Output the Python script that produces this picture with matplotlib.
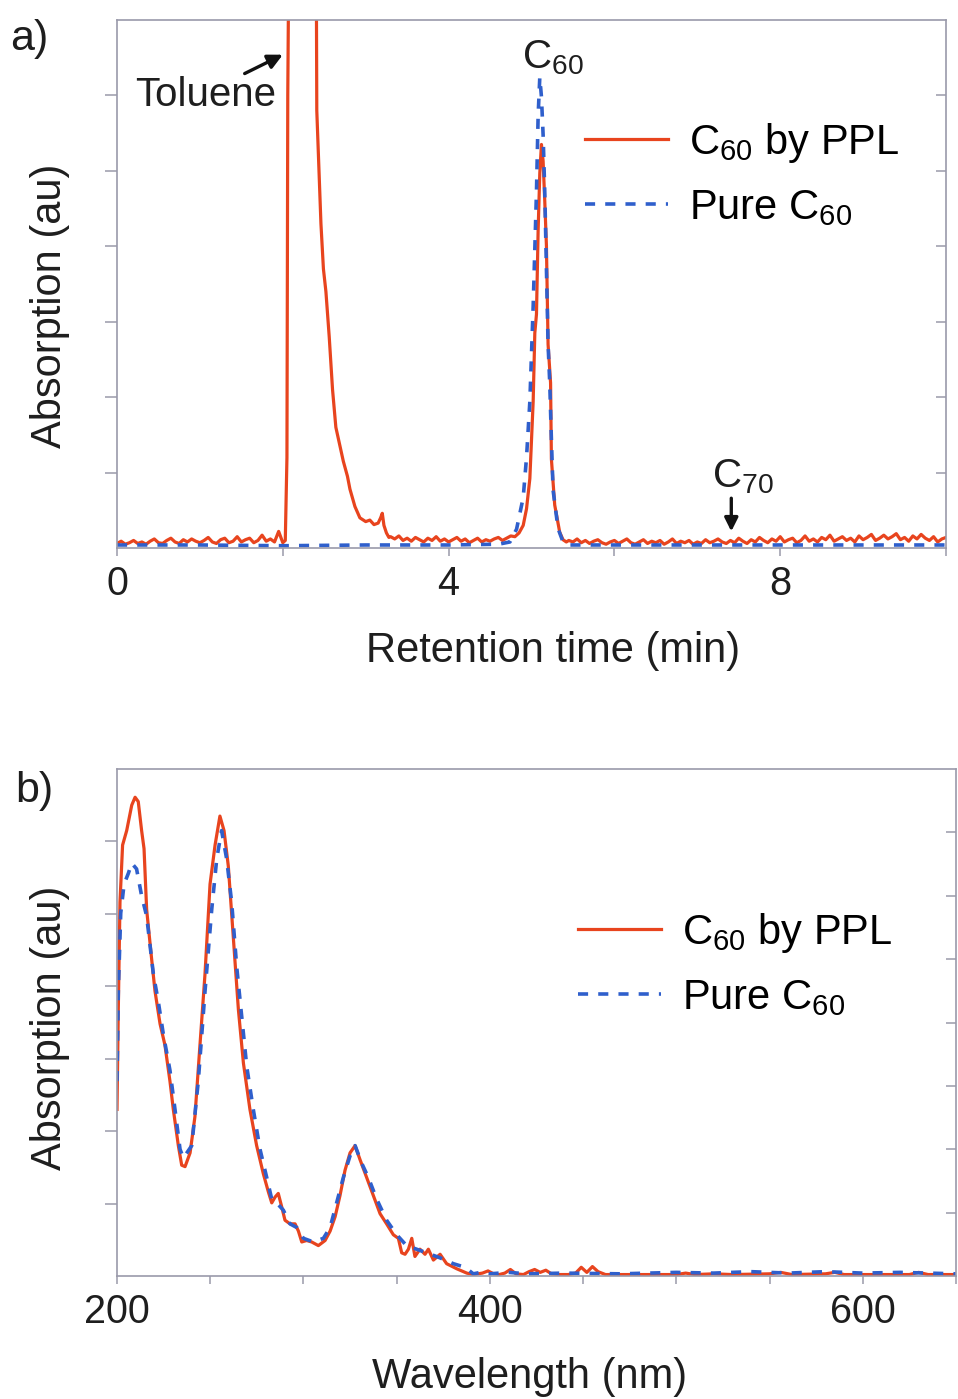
import numpy as np
import matplotlib
matplotlib.use('Agg')
import matplotlib.pyplot as plt

plt.rcParams['font.family'] = ['Liberation Sans', 'DejaVu Sans']
plt.rcParams['mathtext.fontset'] = 'custom'
plt.rcParams['mathtext.rm'] = 'Liberation Sans'
plt.rcParams['mathtext.it'] = 'Liberation Sans:italic'

RED = '#e8441e'
BLUE = '#2f5fcc'
AXC = '#9a9aaa'
TXT = '#1e1e1e'

# ---- panel a: HPLC chromatogram (retention time in min, absorption in au) ----
# red trace "C60 by PPL", baseline 0-2.0 min
a_red_base1 = [0.06, 0.09, 0.05, 0.07, 0.10, 0.06, 0.08, 0.05, 0.09, 0.12,
               0.07, 0.06, 0.10, 0.13, 0.08, 0.06, 0.11, 0.08, 0.12, 0.09,
               0.07, 0.10, 0.14, 0.08, 0.06, 0.11, 0.13, 0.07, 0.09, 0.15,
               0.08, 0.11, 0.13, 0.07, 0.10, 0.17, 0.09, 0.12, 0.08, 0.22, 0.07]
# toluene peak (goes off scale) and its tail
a_tol_x = [2.03, 2.05, 2.06, 2.08, 2.40, 2.41, 2.43, 2.46, 2.49, 2.52, 2.56, 2.60, 2.64, 2.69,
           2.73, 2.78, 2.81, 2.87, 2.93, 3.00, 3.05, 3.10, 3.15, 3.18, 3.20, 3.22, 3.25, 3.28]
a_tol_y = [0.10, 1.20, 6.00, 9.00, 9.00, 5.80, 5.20, 4.30, 3.70, 3.40, 2.80, 2.10, 1.60, 1.35,
           1.15, 0.95, 0.78, 0.55, 0.40, 0.35, 0.37, 0.31, 0.33, 0.40, 0.46, 0.30, 0.20, 0.14]
# baseline 3.30-4.85 min
a_red_base2 = [0.15, 0.12, 0.16, 0.10, 0.13, 0.09, 0.14, 0.11, 0.08, 0.13,
               0.10, 0.15, 0.09, 0.12, 0.08, 0.11, 0.14, 0.09, 0.12, 0.07,
               0.10, 0.13, 0.08, 0.11, 0.09, 0.12, 0.14, 0.10, 0.13, 0.16, 0.15, 0.20]
# C60 peak
a_pk_x = [4.90, 4.94, 4.98, 5.02, 5.04, 5.06, 5.08, 5.10, 5.12, 5.14, 5.16, 5.18, 5.20,
          5.23, 5.24, 5.28, 5.34, 5.38, 5.42]
a_pk_y = [0.30, 0.52, 0.92, 1.94, 2.85, 3.10, 4.21, 4.97, 5.35, 5.13, 4.60, 4.01, 2.70,
          2.19, 1.18, 0.57, 0.21, 0.11, 0.08]
# baseline 5.45-10.0 min
a_red_base3 = [0.10, 0.08, 0.12, 0.07, 0.10, 0.06, 0.09, 0.11, 0.07, 0.05,
               0.08, 0.10, 0.06, 0.09, 0.12, 0.07, 0.05, 0.08, 0.11, 0.06,
               0.09, 0.07, 0.10, 0.05, 0.08, 0.12, 0.06, 0.09, 0.07, 0.10,
               0.05, 0.08, 0.06, 0.11, 0.07, 0.09, 0.12, 0.08, 0.06, 0.10,
               0.07, 0.13, 0.09, 0.06, 0.11, 0.08, 0.14, 0.10, 0.07, 0.12,
               0.09, 0.15, 0.08, 0.11, 0.13, 0.07, 0.10, 0.16, 0.09, 0.12,
               0.08, 0.14, 0.11, 0.17, 0.09, 0.12, 0.15, 0.10, 0.13, 0.08,
               0.16, 0.11, 0.14, 0.18, 0.10, 0.13, 0.17, 0.12, 0.15, 0.19,
               0.11, 0.14, 0.09, 0.16, 0.12, 0.18, 0.13, 0.10, 0.15, 0.08,
               0.12, 0.14]
# blue trace "Pure C60"
a_blue_x = [0.0, 1.0, 2.0, 3.0, 4.0, 4.60, 4.74, 4.82, 4.90, 4.94, 4.98, 5.02, 5.06, 5.08,
            5.10, 5.12, 5.14, 5.16, 5.18, 5.20, 5.22, 5.24, 5.26, 5.32, 5.38, 5.46,
            6.5, 8.0, 9.0, 10.0]
a_blue_y = [0.04, 0.04, 0.03, 0.04, 0.04, 0.05, 0.08, 0.25, 0.67, 1.20, 1.94, 3.20, 4.72, 5.73,
            6.24, 5.98, 5.48, 4.72, 3.71, 2.70, 2.19, 1.44, 0.77, 0.26, 0.08, 0.04,
            0.04, 0.04, 0.04, 0.04]

# ---- panel b: UV-vis spectra (wavelength in nm) ----
b_red_x = [200, 200.7, 201.6, 203, 205.2, 207.9, 209.7, 211.4, 213.2, 214.5, 215.9, 218.6,
           220.4, 223.1, 225.7, 228.4, 230.2, 232.9, 234.7, 236.5, 239.2, 241.8, 244.5,
           247.2, 249.9, 252.6, 255.2, 257.4, 259.7, 262.4, 265.1, 267.8, 271.3, 274.9,
           278.5, 281.2, 283.0, 284.8, 286.5, 288.3, 290.1, 292.8, 295.5, 297.3, 299.1,
           301.7, 304.4, 308.0, 311.6, 314.3, 317.0, 319.6, 322.3, 325.0, 327.7, 330.3,
           333.9, 337.5, 341.1, 344.6, 348.2, 350.9, 352.7, 354.5, 356.3, 358.1, 359.8,
           362.5, 365.2, 367.0, 369.7, 373.3, 376.8, 382.2, 387.6, 391.1,
           396, 399, 402, 405, 408, 411, 414, 418, 421, 424, 427, 430, 433, 437, 442,
           446, 449, 452, 455, 458, 462, 468, 480, 500, 505, 510, 520, 530, 550, 556,
           562, 580, 585, 590, 610, 625, 630, 635, 645, 650]
b_red_y = [2.30, 3.68, 5.16, 5.95, 6.15, 6.50, 6.61, 6.55, 6.15, 5.90, 5.06, 4.37,
           3.93, 3.48, 3.19, 2.69, 2.30, 1.80, 1.53, 1.51, 1.70, 2.20, 3.19,
           4.17, 5.41, 5.95, 6.35, 6.15, 5.66, 4.67, 3.68, 2.94, 2.30, 1.80,
           1.41, 1.16, 1.01, 1.09, 1.14, 0.96, 0.77, 0.72, 0.72, 0.62, 0.47,
           0.49, 0.47, 0.42, 0.49, 0.62, 0.82, 1.11, 1.46, 1.70, 1.80, 1.61,
           1.36, 1.11, 0.86, 0.72, 0.57, 0.52, 0.32, 0.30, 0.37, 0.52, 0.27,
           0.37, 0.30, 0.37, 0.22, 0.30, 0.17, 0.10, 0.04, 0.02,
           0.04, 0.07, 0.03, 0.02, 0.04, 0.09, 0.03, 0.02, 0.06, 0.09, 0.05, 0.08, 0.03, 0.02, 0.02,
           0.04, 0.12, 0.05, 0.13, 0.06, 0.02, 0.02, 0.02, 0.02, 0.04, 0.02, 0.03, 0.02, 0.03, 0.05,
           0.02, 0.03, 0.05, 0.02, 0.02, 0.02, 0.05, 0.02, 0.02, 0.02]
b_blue_x = [200, 200.7, 202, 203.8, 206.1, 207.9, 210.5, 213.2, 215.9, 219.5, 222.2, 224.9,
            228.4, 231.1, 233.8, 235.6, 240.1, 243.6, 247.2, 250.8, 253.5, 256.1, 258.8,
            261.5, 264.2, 266.9, 269.6, 273.1, 276.7, 280.3, 283.0, 285.6, 289.2, 292.8,
            296.4, 300.0, 305.3, 310.7, 314.3, 317.8, 321.4, 325.0, 327.7, 331.2, 334.8,
            339.3, 344.6, 350.0, 355.3, 360.7, 366.1, 373.3, 380.4, 386.7, 391.1,
            395, 400, 410, 420, 440, 470, 500, 520, 540, 560, 580, 600, 620, 650]
b_blue_y = [2.69, 3.93, 5.01, 5.41, 5.56, 5.70, 5.62, 5.25, 4.97, 4.17, 3.78, 3.33,
            2.84, 2.30, 1.75, 1.63, 1.80, 2.69, 3.93, 5.06, 5.76, 6.15, 5.76,
            5.16, 4.27, 3.58, 2.89, 2.30, 1.75, 1.36, 1.06, 1.01, 0.91, 0.72,
            0.67, 0.52, 0.47, 0.52, 0.67, 1.01, 1.36, 1.66, 1.80, 1.56, 1.36,
            1.06, 0.77, 0.57, 0.42, 0.37, 0.32, 0.25, 0.17, 0.12, 0.03,
            0.05, 0.03, 0.05, 0.03, 0.04, 0.03, 0.05, 0.04, 0.06, 0.04, 0.06, 0.04, 0.05, 0.03]

lab_red = 'C$\\mathregular{_{60}}$ by PPL'
lab_blue = 'Pure C$\\mathregular{_{60}}$'

W, H = 958, 1399
fig = plt.figure(figsize=(W / 100, H / 100), dpi=100)


def px_axes(l, t, r, b):
    return fig.add_axes([l / W, 1 - b / H, (r - l) / W, (b - t) / H])


def style(ax, nleft, nright):
    for s in ax.spines.values():
        s.set_color(AXC)
        s.set_linewidth(1.2)
    ax.set_yticks(range(1, nleft))
    ax.set_yticklabels([])
    ax.tick_params(axis='y', direction='out', length=9, width=1.1, color=AXC)
    ax.tick_params(axis='x', direction='out', length=6, width=1.1, color=AXC,
                   labelsize=28.5, labelcolor=TXT, pad=6)
    tw = ax.twinx()
    tw.set_ylim(0, nright)
    tw.set_yticks(range(1, nright))
    tw.set_yticklabels([])
    tw.tick_params(axis='y', direction='in', length=7, width=1.1, color=AXC)
    for s in tw.spines.values():
        s.set_visible(False)


lw_red = 2.3
lw_blue = 2.6
dash = (2.8, 2.8)
leg_kw = dict(loc='upper left', frameon=False, fontsize=30, handlelength=2.0,
              handletextpad=0.5, labelspacing=0.55, borderaxespad=0, borderpad=0)

# panel a
ax1 = px_axes(117, 20, 946, 548)
x1 = np.linspace(0, 2.0, len(a_red_base1))
x3 = np.linspace(3.30, 4.85, len(a_red_base2))
x5 = np.linspace(5.45, 10.0, len(a_red_base3))
ra_x = np.concatenate([x1, a_tol_x, x3, a_pk_x, x5])
ra_y = np.concatenate([a_red_base1, a_tol_y, a_red_base2, a_pk_y, a_red_base3])
ax1.plot(ra_x, ra_y, color=RED, lw=lw_red, label=lab_red)
ax1.plot(a_blue_x, a_blue_y, color=BLUE, lw=lw_blue, dashes=dash, label=lab_blue)
ax1.set_xlim(0, 10)
ax1.set_ylim(0, 7)
ax1.set_xticks([0, 2, 4, 6, 8, 10])
ax1.set_xticklabels(['0', '', '4', '', '8', ''])
style(ax1, 7, 7)
ax1.set_xlabel('Retention time (min)', fontsize=30, color=TXT)
ax1.xaxis.set_label_coords((553 - 117) / 829, -(631 - 548) / 528)
ax1.set_ylabel('Absorption (au)', fontsize=30, color=TXT)
ax1.yaxis.set_label_coords(-(117 - 70) / 829, (548 - 306) / 528)
ax1.legend(bbox_to_anchor=((585 - 117) / 829, (548 - 121) / 528), **leg_kw)

ax1.text(1.07, 6.0, 'Toluene', fontsize=29, color=TXT, ha='center', va='center')
ax1.annotate('', xy=(2.0, 6.54), xytext=(1.54, 6.29),
             arrowprops=dict(arrowstyle='-|>', lw=2.4, color='#111111',
                             mutation_scale=22, shrinkA=0, shrinkB=0))
ax1.text(4.885, 6.36, 'C$\\mathregular{_{60}}$', fontsize=29, color=TXT, ha='left', va='baseline')
ax1.text(7.18, 0.80, 'C$\\mathregular{_{70}}$', fontsize=29, color=TXT, ha='left', va='baseline')
ax1.annotate('', xy=(7.41, 0.22), xytext=(7.41, 0.66),
             arrowprops=dict(arrowstyle='-|>', lw=2.4, color='#111111',
                             mutation_scale=20, shrinkA=0, shrinkB=0))

# panel b
ax2 = px_axes(117, 769, 956, 1276)
ax2.plot(b_red_x, b_red_y, color=RED, lw=lw_red, label=lab_red)
ax2.plot(b_blue_x, b_blue_y, color=BLUE, lw=lw_blue, dashes=dash, label=lab_blue)
ax2.set_xlim(200, 650)
ax2.set_ylim(0, 7)
ax2.set_xticks(range(200, 651, 50))
ax2.set_xticklabels(['200', '', '', '', '400', '', '', '', '600', ''])
style(ax2, 7, 8)
ax2.set_xlabel('Wavelength (nm)', fontsize=30, color=TXT)
ax2.xaxis.set_label_coords((530 - 117) / 839, -(1357 - 1276) / 507)
ax2.set_ylabel('Absorption (au)', fontsize=30, color=TXT)
ax2.yaxis.set_label_coords(-(117 - 70) / 839, (1276 - 1028) / 507)
ax2.legend(bbox_to_anchor=((578 - 117) / 839, (1276 - 911) / 507), **leg_kw)

fig.text(10 / W, 1 - 50 / H, 'a)', fontsize=31, color=TXT, va='baseline')
fig.text(15 / W, 1 - 802 / H, 'b)', fontsize=31, color=TXT, va='baseline')

fig.savefig('out.png', dpi=100, facecolor='white')
